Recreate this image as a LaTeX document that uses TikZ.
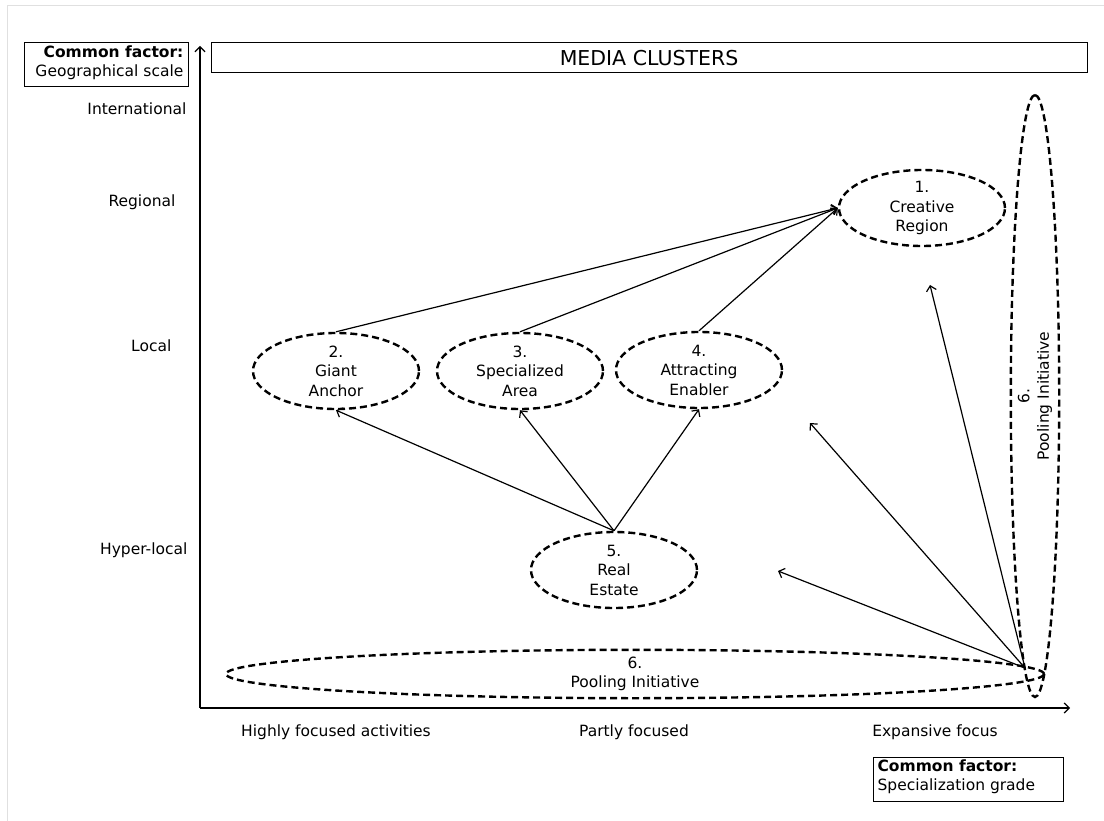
\documentclass[tikz,border=0pt]{standalone}
\usepackage{fontspec}
\setmainfont{DejaVu Sans}
\usetikzlibrary{shapes.geometric, arrows.meta}

\begin{document}
\begin{tikzpicture}[%
        x = 1pt,
        y = -1pt,
        line width = 1.2pt,
        > = {Straight Barb[length = 5pt, width = 10pt]},
        every node/.style = {%
            font = \fontsize{15.5}{19.5}\selectfont,
            align = center
        },
        cluster/.style = {%
            ellipse,
            draw = black,
            line width = 2.4pt,
            dash pattern = on 7pt off 4pt,
            minimum width = 166pt,
            minimum height = 76pt,
            inner sep = 0pt
        },
        factorbox/.style = {%
            draw = black,
            line width = 1pt,
            inner sep = 0pt
        },
        link/.style = {%
            ->,
            draw = black,
            line width = 1.2pt
        }
    ]

        % Fix the page size.
        \useasboundingbox (0, 0) rectangle (1104, 821);
        \draw[line width = 0.8pt, draw = black!12] (7, 821) -- (7, 5) -- (1104, 5);

        % Draw axes.
        \draw[->] (200, 708) -- (200, 46);
        \draw[->] (200, 708) -- (1070, 708);

        % Boxes with the common factors and the title.
        \node[factorbox, minimum width = 164pt, minimum height = 44pt] (geobox) at (106, 65) {};
        \node[anchor = north east, align = right, inner sep = 0pt] (geotext) at (184, 45)
            {\textbf{Common factor:}\\Geographical scale};
        \node[factorbox, minimum width = 876pt, minimum height = 30pt,
              font = \fontsize{20.5}{22}\selectfont] (title) at (649, 58) {MEDIA CLUSTERS};
        \node[factorbox, minimum width = 190pt, minimum height = 44pt] (specbox) at (968, 779) {};
        \node[anchor = north west, align = left, inner sep = 0pt] (spectext) at (877, 759)
            {\textbf{Common factor:}\\Specialization grade};

        % Labels of the geographical scale.
        \node[anchor = east, inner sep = 0pt] (intl) at (187, 109) {International};
        \node[anchor = east, inner sep = 0pt] (regl) at (176, 202) {Regional};
        \node[anchor = east, inner sep = 0pt] (locl) at (172, 346) {Local};
        \node[anchor = east, inner sep = 0pt] (hypl) at (188, 550) {Hyper-local};

        % Labels of the specialization grade.
        \node (high) at (336, 732) {Highly focused activities};
        \node (part) at (634, 732) {Partly focused};
        \node (expa) at (935, 732) {Expansive focus};

        % The clusters.
        \node[cluster] (cre) at (922, 208) {1.\\Creative\\Region};
        \node[cluster] (gia) at (336, 371) {2.\\Giant\\Anchor};
        \node[cluster] (spe) at (520, 371) {3.\\Specialized\\Area};
        \node[cluster] (att) at (699, 370) {4.\\Attracting\\Enabler};
        \node[cluster] (rea) at (614, 570) {5.\\Real\\Estate};
        \node[cluster, minimum width = 818pt, minimum height = 40pt] (poh) at (635, 674)
            {6.\\Pooling Initiative};
        \node[cluster, minimum width = 602pt, minimum height = 34pt, rotate = 90] (pov)
            at (1035, 396) {6.\\Pooling Initiative};

        % Arrows between the clusters.
        \draw[link] (gia.north) -- (cre.west);
        \draw[link] (spe.north) -- (cre.west);
        \draw[link] (att.north) -- (cre.west);
        \draw[link] (rea.north) -- (gia.south);
        \draw[link] (rea.north) -- (spe.south);
        \draw[link] (rea.north) -- (att.south);

        % Arrows out of the pooling initiative.
        \coordinate (pool) at (1025, 668);
        \coordinate (toreg) at (930, 285);
        \coordinate (toloc) at (810, 423);
        \coordinate (tohyp) at (778, 571);
        \draw[link] (pool) -- (toreg);
        \draw[link] (pool) -- (toloc);
        \draw[link] (pool) -- (tohyp);
    \end{tikzpicture}
\end{document}
